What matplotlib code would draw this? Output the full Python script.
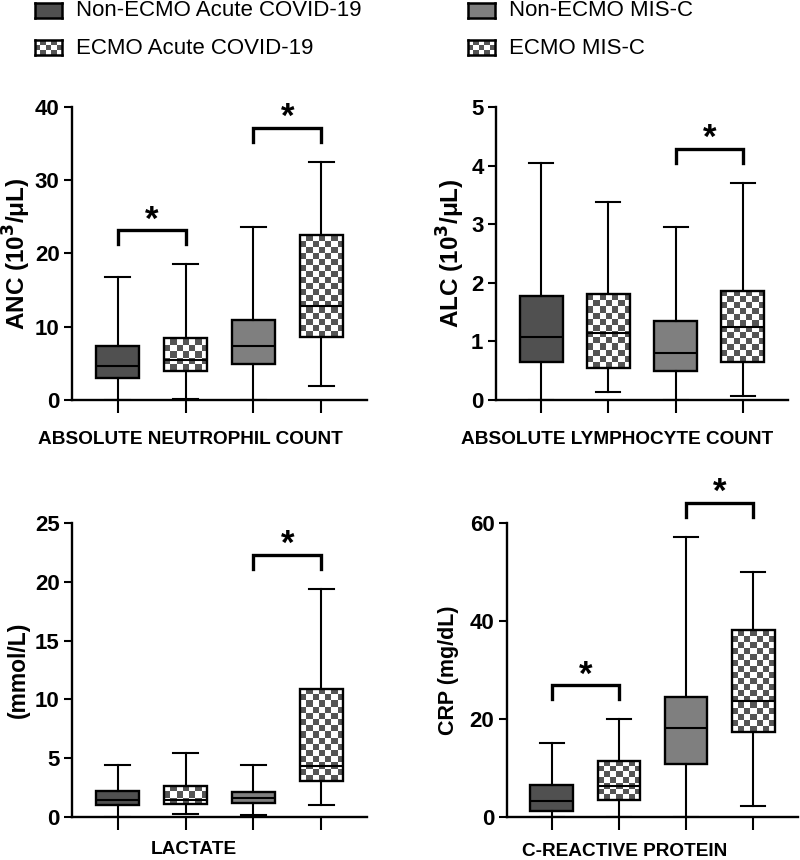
import numpy as np
import matplotlib
matplotlib.use("Agg")
import matplotlib.pyplot as plt
from matplotlib.colors import ListedColormap

plt.rcParams['font.family'] = ['Liberation Sans', 'DejaVu Sans']

groups = ["Non-ECMO Acute COVID-19", "ECMO Acute COVID-19",
          "Non-ECMO MIS-C", "ECMO MIS-C"]
checkered = [False, True, False, True]
fills = ["#505050", "white", "#7f7f7f", "white"]

# box stats: whisker low, Q1, median, Q3, whisker high (one list per group)
anc_lo = [0.0, 0.2, 0.0, 1.9]
anc_q1 = [2.95, 3.9, 4.9, 8.6]
anc_med = [4.6, 5.5, 7.4, 12.8]
anc_q3 = [7.4, 8.4, 10.9, 22.5]
anc_hi = [16.8, 18.5, 23.6, 32.5]

alc_lo = [0.0, 0.14, 0.0, 0.07]
alc_q1 = [0.64, 0.55, 0.5, 0.64]
alc_med = [1.07, 1.14, 0.81, 1.24]
alc_q3 = [1.77, 1.81, 1.34, 1.86]
alc_hi = [4.05, 3.38, 2.95, 3.71]

lac_lo = [0.0, 0.23, 0.14, 1.0]
lac_q1 = [1.0, 1.08, 1.22, 3.04]
lac_med = [1.48, 1.48, 1.65, 4.35]
lac_q3 = [2.19, 2.67, 2.13, 10.9]
lac_hi = [4.46, 5.45, 4.38, 19.4]

crp_lo = [0.0, 0.0, 0.0, 2.25]
crp_q1 = [1.2, 3.5, 10.9, 17.4]
crp_med = [3.3, 6.3, 18.1, 23.7]
crp_q3 = [6.5, 11.5, 24.5, 38.2]
crp_hi = [15.1, 19.9, 57.1, 50.0]

# significant pairs (indices into groups)
anc_sig = [(0, 1), (2, 3)]
alc_sig = [(2, 3)]
lac_sig = [(2, 3)]
crp_sig = [(0, 1), (2, 3)]

panels = [
    dict(lo=anc_lo, q1=anc_q1, med=anc_med, q3=anc_q3, hi=anc_hi, sig=anc_sig,
         ymax=40, yticks=[0, 10, 20, 30, 40], ylabel="ANC (10$^{\\mathbf{3}}$/μL)",
         title="ABSOLUTE NEUTROPHIL COUNT", box=(72, 367, 400, 107),
         ylab_x=17, ylab_size=17.5, title_xy=(190, 440)),
    dict(lo=alc_lo, q1=alc_q1, med=alc_med, q3=alc_q3, hi=alc_hi, sig=alc_sig,
         ymax=5, yticks=[0, 1, 2, 3, 4, 5], ylabel="ALC (10$^{\\mathbf{3}}$/μL)",
         title="ABSOLUTE LYMPHOCYTE COUNT", box=(496, 788, 400, 107),
         ylab_x=451, ylab_size=17.5, title_xy=(617, 440)),
    dict(lo=lac_lo, q1=lac_q1, med=lac_med, q3=lac_q3, hi=lac_hi, sig=lac_sig,
         ymax=25, yticks=[0, 5, 10, 15, 20, 25], ylabel="(mmol/L)",
         title="LACTATE", box=(72, 367, 817, 523),
         ylab_x=18, ylab_size=16.5, title_xy=(194, 850)),
    dict(lo=crp_lo, q1=crp_q1, med=crp_med, q3=crp_q3, hi=crp_hi, sig=crp_sig,
         ymax=60, yticks=[0, 20, 40, 60], ylabel="CRP (mg/dL)",
         title="C-REACTIVE PROTEIN", box=(507, 798, 817, 523),
         ylab_x=448, ylab_size=15.5, title_xy=(625, 852)),
]

W, H = 800, 860
fig = plt.figure(figsize=(W / 100, H / 100), dpi=100)
checker_cmap = ListedColormap(["white", "#555555"])
CELL = 6.0  # checker square, pixels


def checker(ax, x0, x1, y0, y1, z):
    p0 = ax.transData.transform((x0, y0))
    p1 = ax.transData.transform((x1, y1))
    nc = max(1, int(round(abs(p1[0] - p0[0]) / CELL)))
    nr = max(1, int(round(abs(p1[1] - p0[1]) / CELL)))
    arr = np.indices((nr, nc)).sum(axis=0) % 2
    ax.imshow(arr, cmap=checker_cmap, extent=[x0, x1, y0, y1], origin="lower",
              aspect="auto", interpolation="nearest", zorder=z)


pos = np.arange(len(groups))
bw = 0.64
for p in panels:
    l, r, b, t = p["box"]
    ax = fig.add_axes([l / W, 1 - b / H, (r - l) / W, (b - t) / H])
    ax.set_xlim(-0.67, 3.67)
    ax.set_ylim(0, p["ymax"])

    stats = [dict(whislo=p["lo"][i], q1=p["q1"][i], med=p["med"][i],
                  q3=p["q3"][i], whishi=p["hi"][i]) for i in range(len(groups))]
    bp = ax.bxp(stats, positions=pos, widths=bw, capwidths=0.36,
                patch_artist=True, showfliers=False, manage_ticks=False,
                boxprops=dict(linewidth=1.7, edgecolor="black"),
                whiskerprops=dict(linewidth=1.5, color="black"),
                capprops=dict(linewidth=1.5, color="black"),
                medianprops=dict(linewidth=1.5, color="black"))
    for i, box in enumerate(bp["boxes"]):
        box.set_facecolor(fills[i])
        if checkered[i]:
            box.set_facecolor("none")
            box.set_zorder(3)
            bp["medians"][i].set_zorder(3.1)
            checker(ax, pos[i] - bw / 2, pos[i] + bw / 2, p["q1"][i], p["q3"][i], 2.5)
    ax.set_xlim(-0.67, 3.67)
    ax.set_ylim(0, p["ymax"])

    # significance brackets
    px_per_unit = (b - t) / p["ymax"]
    for a, c in p["sig"]:
        top = max(p["hi"][a], p["hi"][c]) + 34 / px_per_unit
        leg = top - 14 / px_per_unit
        ax.plot([pos[a], pos[a], pos[c], pos[c]], [leg, top, top, leg],
                color="black", lw=2.4, clip_on=False, solid_joinstyle="miter")
        ax.text((pos[a] + pos[c]) / 2, top + 1 / px_per_unit, "*", ha="center",
                va="baseline", fontsize=25, fontweight="bold", clip_on=False)

    ax.set_xticks(pos)
    ax.set_xticklabels([])
    ax.set_yticks(p["yticks"])
    ax.tick_params(axis="x", direction="out", length=9, width=1.5)
    ax.tick_params(axis="y", direction="out", length=6, width=1.5,
                   labelsize=16, pad=3)
    for lab in ax.get_yticklabels():
        lab.set_fontweight("bold")
    for s in ["top", "right"]:
        ax.spines[s].set_visible(False)
    for s in ["left", "bottom"]:
        ax.spines[s].set_linewidth(1.7)

    fig.text(p["ylab_x"] / W, 1 - (b + t) / 2 / H, p["ylabel"], rotation=90,
             ha="center", va="center", fontsize=p["ylab_size"], fontweight="bold")
    fig.text(p["title_xy"][0] / W, 1 - p["title_xy"][1] / H, p["title"],
             ha="center", va="center", fontsize=13.7, fontweight="bold")

# legend drawn as swatches + labels
legend_spots = [(35, 3), (35, 40), (468, 3), (468, 40)]
legend_order = [0, 1, 2, 3]
for (sx, sy), gi in zip(legend_spots, legend_order):
    sw = fig.add_axes([sx / W, 1 - (sy + 15) / H, 27 / W, 15 / H])
    sw.set_xlim(0, 1)
    sw.set_ylim(0, 1)
    if checkered[gi]:
        arr = np.indices((3, 5)).sum(axis=0) % 2
        sw.imshow(arr, cmap=checker_cmap, extent=[0, 1, 0, 1], aspect="auto",
                  interpolation="nearest")
    else:
        sw.set_facecolor(fills[gi])
    sw.set_xticks([])
    sw.set_yticks([])
    for s in sw.spines.values():
        s.set_linewidth(1.8)
    fig.text((sx + 41) / W, 1 - (sy + 8) / H, groups[gi], ha="left",
             va="center", fontsize=16)

fig.savefig("out.png", dpi=100)
